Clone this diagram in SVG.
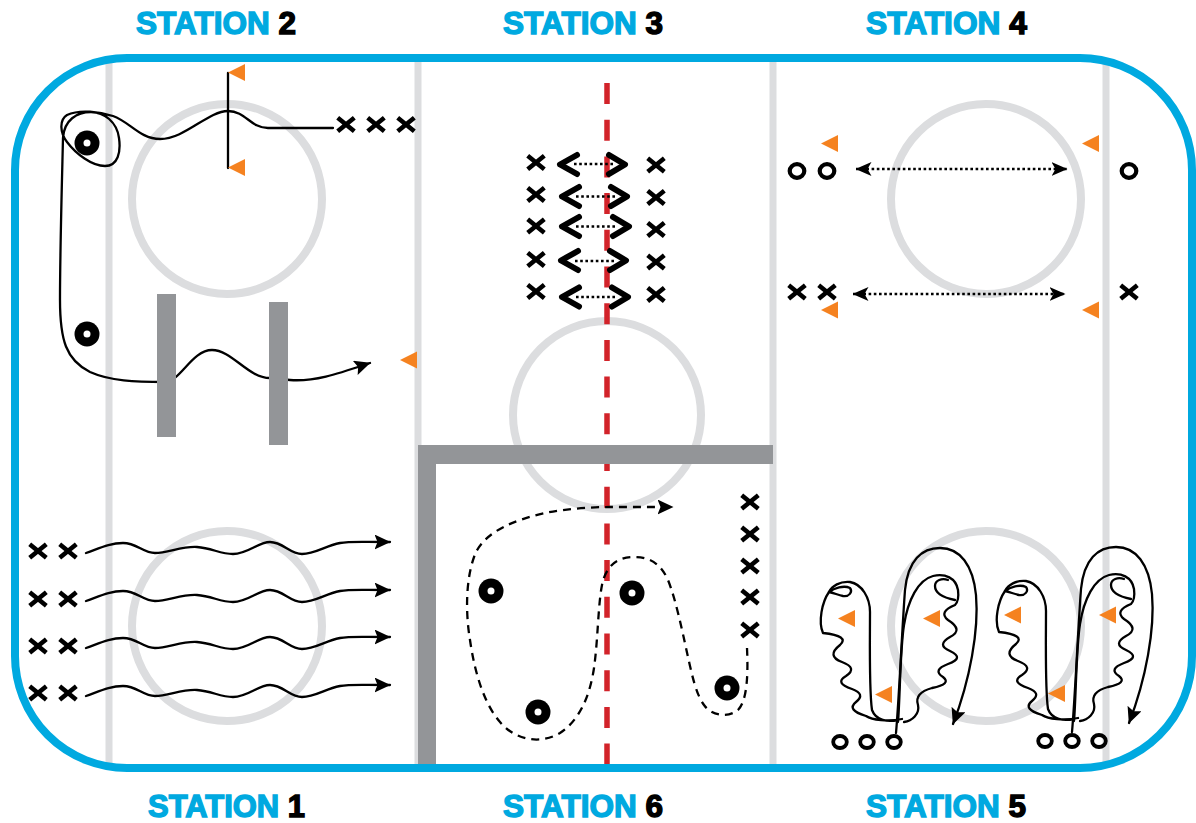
<svg xmlns="http://www.w3.org/2000/svg" width="1196" height="823" viewBox="0 0 1196 823">
<style>
.ice{fill:none;stroke:#dcdddf;stroke-width:7}
.fo{fill:none;stroke:#dcdddf;stroke-width:8}
.red{fill:none;stroke:#d2232a;stroke-width:5.5;stroke-dasharray:21 15.7}
.board{fill:#939598}
.rink{fill:none;stroke:#00a9e0;stroke-width:8}
.path{fill:none;stroke:#000;stroke-width:2.3;stroke-linejoin:round;stroke-linecap:round}
.dash{fill:none;stroke:#000;stroke-width:2.3;stroke-dasharray:8 6}
.dot{fill:none;stroke:#000;stroke-width:2.6;stroke-dasharray:2.6 2.6}
.chev{fill:none;stroke:#000;stroke-width:6;stroke-linecap:round;stroke-linejoin:round}
.title{font-family:"Liberation Sans",Arial,sans-serif;font-weight:bold;font-size:31px}
.blue{fill:#00a9e0;stroke:#00a9e0;stroke-width:1.4}
.blk{fill:#000;stroke:#000;stroke-width:1.4}
</style>
<defs>
<marker id="ah" viewBox="0 0 16 15" refX="15.5" refY="7.5" markerWidth="16" markerHeight="15" markerUnits="userSpaceOnUse" orient="auto">
<path d="M0,0 L16,7.5 L0,15 L3,7.5 z" fill="#000"/>
</marker>
<marker id="ah2" viewBox="0 0 16 14" refX="15.5" refY="7" markerWidth="16" markerHeight="14" markerUnits="userSpaceOnUse" orient="auto-start-reverse">
<path d="M0,0 L16,7 L0,14 L4,7 z" fill="#000"/>
</marker>
<path id="xm" d="M-8.3,-6.7 L8.3,6.7 M-8.3,6.7 L8.3,-6.7" fill="none" stroke="#000" stroke-width="4.6"/>
<ellipse id="om" rx="6.8" ry="6" fill="none" stroke="#000" stroke-width="3.8"/>
<ellipse id="om4" rx="7.3" ry="6.8" fill="none" stroke="#000" stroke-width="4.2"/>
<g id="puck"><circle r="12.5" fill="#000"/><circle r="3.5" fill="#fff"/></g>
<path id="cone" d="M0,0 L17,-8.5 L17,8.5 z" fill="#f58220"/>
<g id="s5paths">
<path class="path" d="M898,720 C888,722 876,721 872,710 C869,690 870,640 870,612 C870,598 862,584 850,582 C840,581 832,586 829,592 C822,602 818,622 823,633 Q850,636 840,645 Q826,656 842,662 Q858,668 846,676 Q834,683 852,689 Q866,694 856,702 Q846,710 866,716 C872,720 888,722 902,719"/>
<path class="path" d="M829,592 C834,588 844,585 850,588 C853,592 849,597 843,596 C838,595 834,593 829,592"/>
<path class="path" d="M898,722 C900,700 900,650 904,625 C908,600 918,580 933,576 C945,573 956,578 958,590 C959,598 958,602 955,605 Q938,612 948,620 Q964,630 950,637 Q936,645 950,651 Q965,658 948,664 Q932,670 943,677 Q952,684 932,688 Q914,693 918,705 C920,714 912,721 904,722"/>
<path class="path" d="M955,600 C945,598 935,594 935,586 C935,580 942,578 948,580"/>
<path class="path" marker-end="url(#ah)" d="M896,733 C899,700 902,630 905,590 C908,560 922,548 940,548 C960,548 973,565 976,595 C979,630 970,680 953,724"/>
</g>
</defs>

<rect width="1196" height="823" fill="#fff"/>

<g id="ice-lines">
<line class="ice" x1="109" y1="58" x2="109" y2="768"/>
<line class="ice" x1="418" y1="58" x2="418" y2="768"/>
<line class="ice" x1="773" y1="58" x2="773" y2="768"/>
<line class="ice" x1="1106" y1="58" x2="1106" y2="768"/>
<circle class="fo" cx="227" cy="199" r="95"/>
<circle class="fo" cx="227" cy="626" r="95"/>
<circle class="fo" cx="607" cy="415" r="94"/>
<circle class="fo" cx="986" cy="199" r="95"/>
<circle class="fo" cx="986" cy="626" r="95"/>
<line class="red" x1="607" y1="83" x2="607" y2="766"/>
</g>

<g id="connectors">
<!-- station 2 -->
<line class="path" x1="228" y1="73" x2="228" y2="168"/>
<path class="path" marker-end="url(#ah)" d="M333,128 L268,128 C250,128 246,111 228,111 C208,111 185,139 160,139 C140,139 130,122 113,116 C100,112 80,109 67,115 C59,120 60,133 67,142 C76,154 92,166 105,166 C118,166 121,152 119,138 C117,122 104,112 91,112 C77,112 64,120 63,138 C62,180 60,250 60,300 C60,340 66,360 90,372 C110,381 135,382 165,382 C180,382 192,350 212,350 C232,350 248,378 270,378 L290,380 C315,382 340,373 370,363"/>
<!-- station 1 -->
<path class="path" marker-end="url(#ah)" d="M86,553 C100,548 110,543 123,543 C137,543 143,553 155,553 C168,553 182,546 197,547 C212,548 220,554 233,554 C248,554 258,542 270,542 C283,542 290,554 302,554 C315,554 325,546 340,543 C350,541 360,542 390,542"/>
<path class="path" marker-end="url(#ah)" transform="translate(0,48)" d="M86,553 C100,548 110,543 123,543 C137,543 143,553 155,553 C168,553 182,546 197,547 C212,548 220,554 233,554 C248,554 258,542 270,542 C283,542 290,554 302,554 C315,554 325,546 340,543 C350,541 360,542 390,542"/>
<path class="path" marker-end="url(#ah)" transform="translate(0,95)" d="M86,553 C100,548 110,543 123,543 C137,543 143,553 155,553 C168,553 182,546 197,547 C212,548 220,554 233,554 C248,554 258,542 270,542 C283,542 290,554 302,554 C315,554 325,546 340,543 C350,541 360,542 390,542"/>
<path class="path" marker-end="url(#ah)" transform="translate(0,143)" d="M86,553 C100,548 110,543 123,543 C137,543 143,553 155,553 C168,553 182,546 197,547 C212,548 220,554 233,554 C248,554 258,542 270,542 C283,542 290,554 302,554 C315,554 325,546 340,543 C350,541 360,542 390,542"/>
<!-- station 3 -->
<line class="dot" x1="574" y1="164" x2="614" y2="164"/>
<line class="dot" x1="576" y1="196.5" x2="616" y2="196.5"/>
<line class="dot" x1="576" y1="226.5" x2="617" y2="226.5"/>
<line class="dot" x1="575" y1="261" x2="615" y2="261"/>
<line class="dot" x1="576" y1="297" x2="616" y2="297"/>
<path class="chev" d="M577,155 L560,164.5 L577,174"/>
<path class="chev" d="M609,155 L625,164.5 L609,174"/>
<path class="chev" d="M579,187 L562,196.5 L579,206"/>
<path class="chev" d="M611,187 L627,196.5 L611,206"/>
<path class="chev" d="M579,217 L562,226.5 L579,236"/>
<path class="chev" d="M613,217 L629,226.5 L613,236"/>
<path class="chev" d="M578,251 L561,260.5 L578,270"/>
<path class="chev" d="M610,251 L626,260.5 L610,270"/>
<path class="chev" d="M579,287.5 L562,297 L579,306.5"/>
<path class="chev" d="M612,287.5 L628,297 L612,306.5"/>
<!-- station 4 -->
<line class="dot" x1="856" y1="169" x2="1067" y2="169" marker-start="url(#ah2)" marker-end="url(#ah2)"/>
<line class="dot" x1="853" y1="294" x2="1065" y2="294" marker-start="url(#ah2)" marker-end="url(#ah2)"/>
<!-- station 6 -->
<path class="dash" marker-end="url(#ah)" d="M747,648 C748,670 748,700 738,710 C728,718 712,716 704,705 C696,694 692,675 688,657 C682,630 676,600 668,580 C660,562 648,557 634,557 C618,557 606,565 602,585 C598,605 598,640 594,668 C590,695 580,720 560,733 C540,745 515,740 500,722 C485,705 475,675 470,640 C465,610 466,575 476,552 C488,530 515,520 545,513 C565,509 590,507 610,507 L673,507"/>
<!-- station 5 -->
<use id="s5-left-paths" href="#s5paths"/>
<use id="s5-right-paths" href="#s5paths" transform="translate(176,-1)"/>
</g>

<g id="boards">
<rect class="board" x="157" y="294" width="19" height="143"/>
<rect class="board" x="269" y="302" width="19" height="143"/>
<rect class="board" x="418" y="445" width="355" height="19"/>
<rect class="board" x="418" y="445" width="18" height="325"/>
</g>

<rect id="rink" class="rink" x="15" y="58" width="1177" height="710" rx="112"/>

<!-- station 2 nodes -->
<g id="s2-cone-1"><use href="#cone" x="228" y="72.5"/></g>
<g id="s2-cone-2"><use href="#cone" x="228" y="167.5"/></g>
<g id="s2-cone-3"><use href="#cone" x="400" y="360"/></g>
<g id="s2-puck-1"><use href="#puck" x="87" y="143"/></g>
<g id="s2-puck-2"><use href="#puck" x="87" y="334"/></g>
<g id="s2-x-1"><use href="#xm" x="346" y="124.5"/></g>
<g id="s2-x-2"><use href="#xm" x="376" y="124.5"/></g>
<g id="s2-x-3"><use href="#xm" x="406" y="124.5"/></g>

<!-- station 1 nodes -->
<g id="s1-x-1"><use href="#xm" x="38" y="551"/></g>
<g id="s1-x-2"><use href="#xm" x="68" y="551"/></g>
<g id="s1-x-3"><use href="#xm" x="38" y="599"/></g>
<g id="s1-x-4"><use href="#xm" x="68" y="599"/></g>
<g id="s1-x-5"><use href="#xm" x="38" y="646"/></g>
<g id="s1-x-6"><use href="#xm" x="68" y="646"/></g>
<g id="s1-x-7"><use href="#xm" x="38" y="693"/></g>
<g id="s1-x-8"><use href="#xm" x="68" y="693"/></g>

<!-- station 3 nodes -->
<g id="s3-x-l1"><use href="#xm" x="536" y="162.5"/></g>
<g id="s3-x-l2"><use href="#xm" x="536" y="194.5"/></g>
<g id="s3-x-l3"><use href="#xm" x="536" y="226"/></g>
<g id="s3-x-l4"><use href="#xm" x="536" y="259.5"/></g>
<g id="s3-x-l5"><use href="#xm" x="536" y="291.5"/></g>
<g id="s3-x-r1"><use href="#xm" x="656" y="165"/></g>
<g id="s3-x-r2"><use href="#xm" x="656" y="197.5"/></g>
<g id="s3-x-r3"><use href="#xm" x="656" y="229.5"/></g>
<g id="s3-x-r4"><use href="#xm" x="656" y="262"/></g>
<g id="s3-x-r5"><use href="#xm" x="656" y="294.5"/></g>

<!-- station 4 nodes -->
<g id="s4-cone-1"><use href="#cone" x="821" y="143.5"/></g>
<g id="s4-cone-2"><use href="#cone" x="1082" y="143.5"/></g>
<g id="s4-cone-3"><use href="#cone" x="821" y="310"/></g>
<g id="s4-cone-4"><use href="#cone" x="1082" y="310"/></g>
<g id="s4-o-1"><use href="#om4" x="797" y="171"/></g>
<g id="s4-o-2"><use href="#om4" x="827" y="171"/></g>
<g id="s4-o-3"><use href="#om4" x="1129" y="171"/></g>
<g id="s4-x-1"><use href="#xm" x="797" y="292"/></g>
<g id="s4-x-2"><use href="#xm" x="827" y="292"/></g>
<g id="s4-x-3"><use href="#xm" x="1129" y="292"/></g>

<!-- station 6 nodes -->
<g id="s6-puck-1"><use href="#puck" x="491" y="591"/></g>
<g id="s6-puck-2"><use href="#puck" x="538" y="712"/></g>
<g id="s6-puck-3"><use href="#puck" x="632" y="593"/></g>
<g id="s6-puck-4"><use href="#puck" x="727" y="688"/></g>
<g id="s6-x-1"><use href="#xm" x="750" y="502"/></g>
<g id="s6-x-2"><use href="#xm" x="750" y="534"/></g>
<g id="s6-x-3"><use href="#xm" x="750" y="566"/></g>
<g id="s6-x-4"><use href="#xm" x="750" y="597"/></g>
<g id="s6-x-5"><use href="#xm" x="750" y="630"/></g>

<!-- station 5 nodes -->
<g id="s5-cone-1"><use href="#cone" x="838" y="618.5"/></g>
<g id="s5-cone-2"><use href="#cone" x="923" y="618.5"/></g>
<g id="s5-cone-3"><use href="#cone" x="875" y="694.5"/></g>
<g id="s5-cone-4"><use href="#cone" x="1004" y="615"/></g>
<g id="s5-cone-5"><use href="#cone" x="1099" y="615"/></g>
<g id="s5-cone-6"><use href="#cone" x="1048" y="693.5"/></g>
<g id="s5-o-1"><use href="#om" x="840" y="742"/></g>
<g id="s5-o-2"><use href="#om" x="867" y="742"/></g>
<g id="s5-o-3"><use href="#om" x="894" y="742"/></g>
<g id="s5-o-4"><use href="#om" x="1045" y="741"/></g>
<g id="s5-o-5"><use href="#om" x="1072" y="741"/></g>
<g id="s5-o-6"><use href="#om" x="1099" y="741"/></g>

<g id="titles">
<text class="title" x="136" y="34" textLength="160" lengthAdjust="spacingAndGlyphs"><tspan class="blue">STATION </tspan><tspan class="blk">2</tspan></text>
<text class="title" x="503" y="34" textLength="160" lengthAdjust="spacingAndGlyphs"><tspan class="blue">STATION </tspan><tspan class="blk">3</tspan></text>
<text class="title" x="866" y="34" textLength="161" lengthAdjust="spacingAndGlyphs"><tspan class="blue">STATION </tspan><tspan class="blk">4</tspan></text>
<text class="title" x="148" y="817" textLength="157" lengthAdjust="spacingAndGlyphs"><tspan class="blue">STATION </tspan><tspan class="blk">1</tspan></text>
<text class="title" x="503" y="817" textLength="160" lengthAdjust="spacingAndGlyphs"><tspan class="blue">STATION </tspan><tspan class="blk">6</tspan></text>
<text class="title" x="866" y="817" textLength="160" lengthAdjust="spacingAndGlyphs"><tspan class="blue">STATION </tspan><tspan class="blk">5</tspan></text>
</g>
</svg>
